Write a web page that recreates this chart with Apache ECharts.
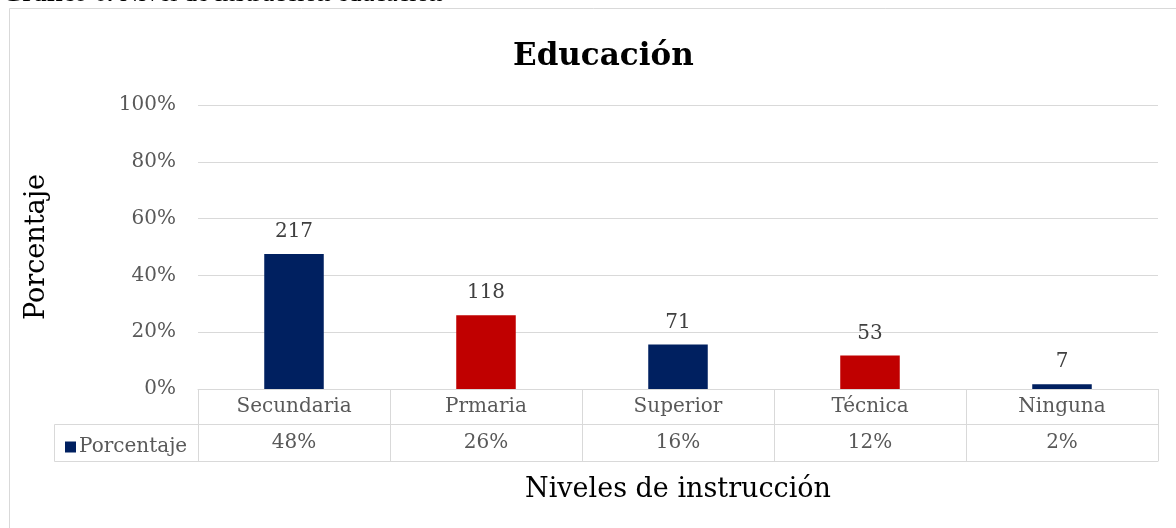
<!DOCTYPE html>
<html>
<head>
<meta charset="utf-8">
<script src="https://cdn.jsdelivr.net/npm/echarts@6/dist/echarts.min.js"></script>
<style>
html,body{margin:0;padding:0;background:#fff;}
#chart{width:1176px;height:528px;}
</style>
</head>
<body>
<div id="chart"></div>
<script>
// ---- data ----
const categories = ['Secundaria', 'Prmaria', 'Superior', 'Técnica', 'Ninguna'];
const percentages = [0.475, 0.26, 0.157, 0.118, 0.017];
const tableLabels = ['48%', '26%', '16%', '12%', '2%'];
const counts = [217, 118, 71, 53, 7];
const barColors = ['#002060', '#C00000', '#002060', '#C00000', '#002060'];
const yTicks = [0, 0.2, 0.4, 0.6, 0.8, 1.0];

const FONT = 'DejaVu Serif';
const GRID = '#d9d9d9';
const TXT = '#595959';

const chart = echarts.init(document.getElementById('chart'));
chart.setOption({
  animation: false,
  backgroundColor: '#fff',
  textStyle: { fontFamily: FONT },
  title: {
    text: 'Educación',
    left: 508,
    top: 36,
    textStyle: { fontFamily: FONT, fontSize: 31, fontWeight: 'bold', color: '#000' }
  },
  legend: {
    left: 60,
    top: 432,
    itemWidth: 11,
    itemHeight: 11,
    itemGap: 4,
    icon: 'rect',
    data: ['Porcentaje'],
    textStyle: { fontFamily: FONT, fontSize: 20, color: TXT, padding: [0, 0, 0, -2] }
  },
  grid: { left: 198, right: 18, top: 105, bottom: 139, containLabel: false },
  xAxis: [
    {
      type: 'category',
      data: categories,
      position: 'bottom',
      axisLine: { show: true, lineStyle: { color: GRID, width: 1 } },
      axisTick: { show: true, length: 72, interval: 0, lineStyle: { color: GRID } },
      axisLabel: { interval: 0, margin: 8, fontFamily: FONT, fontSize: 20, color: TXT }
    },
    {
      type: 'category',
      data: categories,
      position: 'bottom',
      offset: 35,
      axisLine: { show: true, lineStyle: { color: GRID, width: 1 } },
      axisTick: { show: false },
      axisLabel: {
        interval: 0, margin: 9, fontFamily: FONT, fontSize: 20, color: TXT,
        formatter: (v, i) => tableLabels[i]
      },
      name: 'Niveles de instrucción',
      nameLocation: 'middle',
      nameGap: 52,
      nameTextStyle: { fontFamily: FONT, fontSize: 27, color: '#000' }
    },
    {
      type: 'category',
      data: categories,
      position: 'bottom',
      offset: 72,
      axisLine: { show: true, lineStyle: { color: GRID, width: 1 } },
      axisTick: { show: false },
      axisLabel: { show: false }
    }
  ],
  yAxis: {
    type: 'value',
    min: yTicks[0],
    max: yTicks[yTicks.length - 1],
    interval: 0.2,
    axisLine: { show: false },
    axisTick: { show: false },
    splitLine: { show: true, lineStyle: { color: GRID, width: 1 } },
    axisLabel: {
      margin: 22, fontFamily: FONT, fontSize: 20, color: TXT,
      formatter: v => Math.round(v * 100) + '%'
    },
    name: 'Porcentaje',
    nameLocation: 'middle',
    nameRotate: 90,
    nameGap: 148,
    nameTextStyle: { fontFamily: FONT, fontSize: 27, color: '#000' }
  },
  series: [{
    name: 'Porcentaje',
    type: 'bar',
    xAxisIndex: 0,
    barWidth: '31%',
    itemStyle: { color: '#002060' },
    data: percentages.map((v, i) => ({ value: v, itemStyle: { color: barColors[i] } })),
    label: {
      show: true,
      position: 'top',
      distance: 12,
      fontFamily: FONT,
      fontSize: 20,
      color: '#404040',
      formatter: p => String(counts[p.dataIndex])
    }
  }],
  graphic: [
    { type: 'rect', shape: { x: 9.5, y: 8.5, width: 1200, height: 600 },
      style: { fill: 'none', stroke: GRID, lineWidth: 1 }, silent: true, z: -10 },
    { type: 'line', shape: { x1: 54.5, y1: 424.5, x2: 198, y2: 424.5 }, style: { stroke: GRID, lineWidth: 1 } },
    { type: 'line', shape: { x1: 54.5, y1: 461.5, x2: 198, y2: 461.5 }, style: { stroke: GRID, lineWidth: 1 } },
    { type: 'line', shape: { x1: 54.5, y1: 424.5, x2: 54.5, y2: 461.5 }, style: { stroke: GRID, lineWidth: 1 } },
    { type: 'text', x: 2, y: -19,
      style: {
        text: '{b|Gráfico 6.}{n| Nivel de instrucción educación}',
        verticalAlign: 'top',
        rich: {
          b: { fontWeight: 'bold', fontFamily: 'Liberation Serif', fontSize: 26, lineHeight: 26, color: '#000' },
          n: { fontWeight: 'normal', fontFamily: 'Liberation Serif', fontSize: 26, lineHeight: 26, color: '#000' }
        }
      } }
  ]
});
</script>
</body>
</html>
